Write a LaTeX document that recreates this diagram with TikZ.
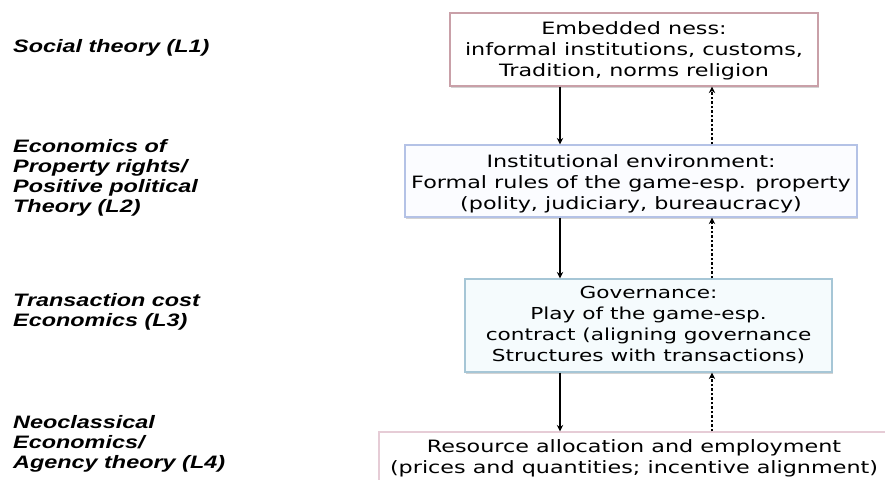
\documentclass[tikz,border=0pt]{standalone}
\usepackage{fontspec}
\setmainfont{DejaVu Sans}[FakeStretch=1.31]
\newfontfamily\lblfont{Liberation Sans}[FakeStretch=1.3]
\usetikzlibrary{arrows.meta,shadows}
\definecolor{bordA}{HTML}{C9A0A8}
\definecolor{bordB}{HTML}{B4C2E6}
\definecolor{bordC}{HTML}{A6C6D6}
\definecolor{bordD}{HTML}{E6CCD6}
\definecolor{fillB}{HTML}{FBFCFF}
\definecolor{fillC}{HTML}{F5FBFD}
\tikzset{
  layerbox/.style={draw, line width=1.2pt, inner sep=0pt,
    drop shadow={shadow xshift=1.2pt, shadow yshift=-1.5pt, opacity=0.35, fill=gray}},
  boxtext/.style={inner sep=0pt, align=center, font=\fontsize{17pt}{21pt}\selectfont},
  lbl/.style={anchor=west, align=left, inner sep=0pt,
    font=\lblfont\bfseries\itshape\fontsize{18pt}{20pt}\selectfont},
  downarr/.style={line width=1.1pt, -{Stealth[length=6.5pt,width=6.5pt]}},
  uparr/.style={line width=1.4pt, dash pattern=on 2.5pt off 2pt, -{Stealth[length=6.5pt,width=6.5pt]}}
}
\begin{document}
\begin{tikzpicture}[x=1pt,y=1pt]
\useasboundingbox (0,0) rectangle (885,-479);
\clip (0,0) rectangle (885,-479);
% left labels
\node[lbl] (l1) at (13,-48) {Social theory (L1)};
\node[lbl] (l2) at (13,-178) {Economics of\\Property rights/\\Positive political\\Theory (L2)};
\node[lbl] (l3) at (13,-312) {Transaction cost\\Economics (L3)};
\node[lbl] (l4) at (13,-444) {Neoclassical\\Economics/\\Agency theory (L4)};
% boxes
\node[layerbox, draw=bordA, fill=white, minimum width=368, minimum height=73] (b1) at (634,-49.5) {};
\node[boxtext] (t1) at (634,-50.5) {Embedded ness:\\informal institutions, customs,\\Tradition, norms religion};
\node[layerbox, draw=bordB, fill=fillB, minimum width=452, minimum height=72] (b2) at (631,-181) {};
\node[boxtext] (t2) at (631,-184) {Institutional environment:\\Formal rules of the game-esp. property\\(polity, judiciary, bureaucracy)};
\node[layerbox, draw=bordC, fill=fillC, minimum width=367, minimum height=93] (b3) at (648.5,-325.5) {};
\node[boxtext, font=\fontsize{16.5pt}{21.3pt}\selectfont] (t3) at (648.5,-325) {Governance:\\Play of the game-esp.\\contract (aligning governance\\Structures with transactions)};
\node[layerbox, draw=bordD, fill=white, minimum width=508, minimum height=49] (b4) at (633,-456.5) {};
\node[boxtext] (t4) at (634,-458.5) {Resource allocation and employment\\(prices and quantities; incentive alignment)};
% arrow columns
\coordinate (sx) at (560,0);
\coordinate (dx) at (712,0);
\draw[downarr] (b1.south -| sx) -- (b2.north -| sx);
\draw[downarr] (b2.south -| sx) -- (b3.north -| sx);
\draw[downarr] (b3.south -| sx) -- (b4.north -| sx);
\draw[uparr] (b2.north -| dx) -- (b1.south -| dx);
\draw[uparr] (b3.north -| dx) -- (b2.south -| dx);
\draw[uparr] (b4.north -| dx) -- (b3.south -| dx);
\end{tikzpicture}
\end{document}
